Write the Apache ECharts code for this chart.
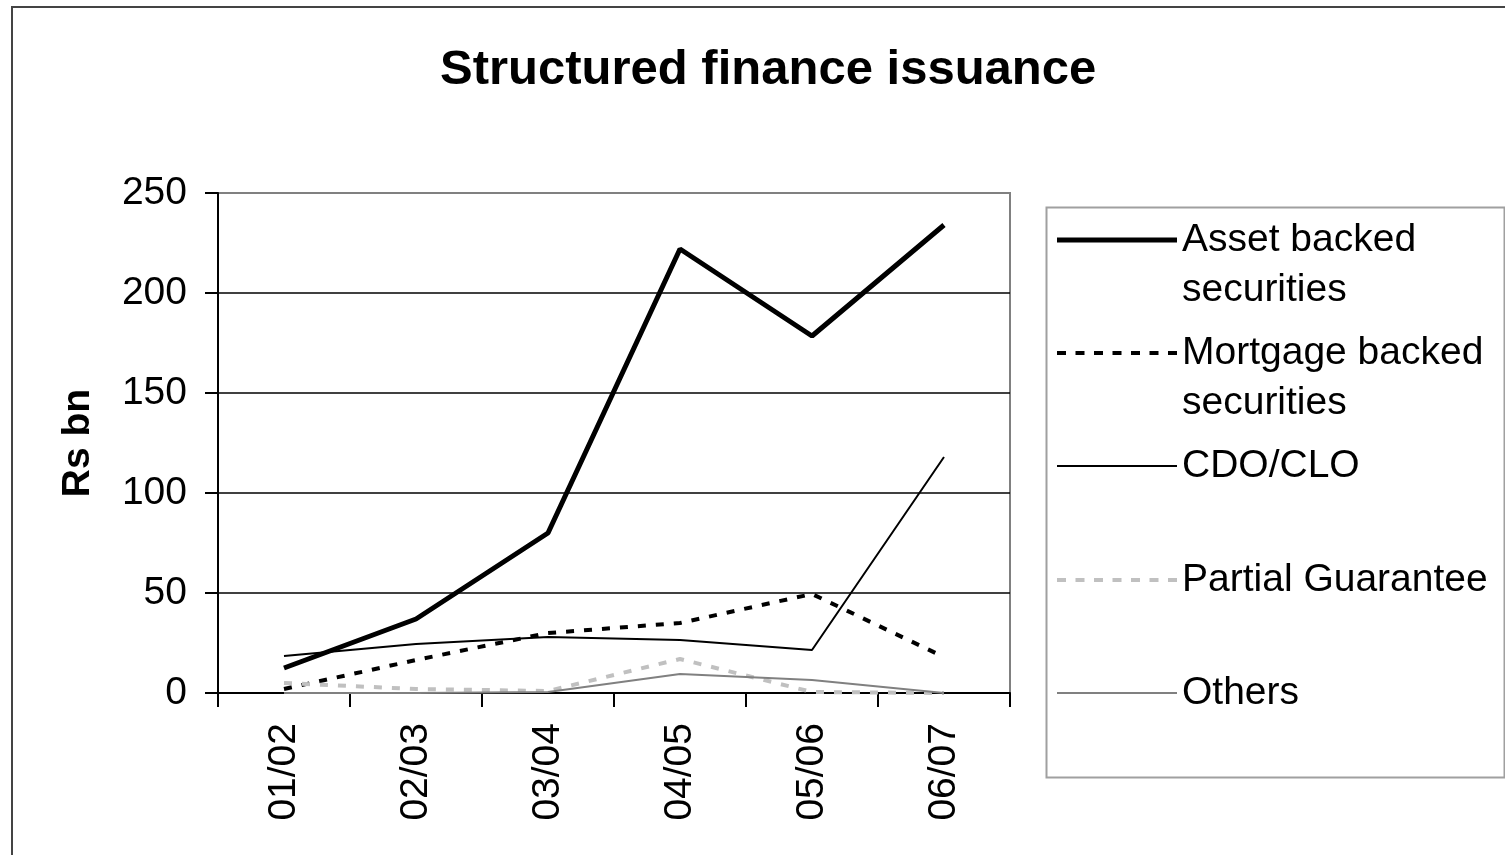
<!DOCTYPE html>
<html>
<head>
<meta charset="utf-8">
<script src="https://cdn.jsdelivr.net/npm/echarts@6/dist/echarts.min.js"></script>
<style>
  html, body { margin: 0; padding: 0; background: #fff; }
  #wrap { position: relative; width: 1505px; height: 855px; overflow: hidden; }
  #chart { position: absolute; left: 0; top: 0; width: 1505px; height: 855px; }
  #frame { position: absolute; left: 11px; top: 6px; width: 1600px; height: 900px;
           border-left: 2px solid #444; border-top: 2px solid #444; pointer-events: none; }
</style>
</head>
<body>
<div id="wrap">
  <div id="chart"></div>
  <div id="frame"></div>
</div>
<script>
// Financial years
const categories = ['01/02', '02/03', '03/04', '04/05', '05/06', '06/07'];

// Issuance by product, Rs bn
const assetBacked    = [12.5, 37, 80, 222, 178.5, 234];
const mortgageBacked = [2, 16.5, 30, 35, 49.5, 18];
const cdoClo         = [18.5, 24.5, 28, 26.5, 21.5, 118];
const partialGuar    = [5, 2, 1, 17, 0.5, 0];
const others         = [0, 0, 0.5, 9.5, 6.5, 0];

const seriesNames = ['Asset backed securities', 'Mortgage backed securities', 'CDO/CLO', 'Partial Guarantee', 'Others'];
// a leading blank line keeps the key line level with the first line of wrapped names
const legendLabels = ['\nAsset backed\nsecurities', '\nMortgage backed\nsecurities', 'CDO/CLO', 'Partial Guarantee', 'Others'];
const yTicks = { min: 0, max: 250, step: 50 };

const FONT = '"Liberation Sans", Arial, sans-serif';

// dashed key sample: seven dashes across a 120 x 4 box
const dashIcon = 'path://' + [0, 18.5, 37, 55.5, 74, 92.5, 111]
  .map(x => 'M' + x + ' 0h9v4h-9z').join(' ');

const lineStyles = [
  { color: '#000000', width: 5, type: 'solid' },
  { color: '#000000', width: 4, type: [8, 10] },
  { color: '#000000', width: 2, type: 'solid' },
  { color: '#c0c0c0', width: 4, type: [8, 10] },
  { color: '#808080', width: 2, type: 'solid' }
];
const keyIcons = ['rect', dashIcon, 'rect', dashIcon, 'rect'];
const keyHeights = [5, 4, 2, 4, 2];
const values = [assetBacked, mortgageBacked, cdoClo, partialGuar, others];

// one legend block per entry, stacked down the key box
const legendTops = [165, 278, 441, 555, 668];
const legends = seriesNames.map((name, i) => ({
  data: [name],
  orient: 'vertical',
  left: 1057,
  top: legendTops[i],
  padding: 0,
  itemWidth: 120,
  itemHeight: keyHeights[i],
  icon: keyIcons[i],
  itemStyle: { color: lineStyles[i].color, borderWidth: 0 },
  selectedMode: false,
  formatter: () => legendLabels[i],
  textStyle: { fontFamily: FONT, fontSize: 39, color: '#000', lineHeight: 50 }
}));

const chart = echarts.init(document.getElementById('chart'), null, { renderer: 'canvas' });
chart.setOption({
  animation: false,
  backgroundColor: '#ffffff',
  title: {
    text: 'Structured finance issuance',
    left: 440,
    top: 46,
    padding: 0,
    textStyle: { fontFamily: FONT, fontSize: 49, fontWeight: 'bold', color: '#000' }
  },
  legend: legends,
  graphic: [{
    type: 'rect',
    left: 1044, top: 205,
    shape: { width: 458, height: 570 },
    style: { fill: 'none', stroke: '#a0a0a0', lineWidth: 2 },
    z: -1
  }],
  grid: {
    left: 218, right: 495, top: 193, bottom: 162,
    show: true, borderColor: '#808080', borderWidth: 2, backgroundColor: '#fff'
  },
  xAxis: {
    type: 'category',
    data: categories,
    boundaryGap: true,
    axisLine: { lineStyle: { color: '#000', width: 2 } },
    axisTick: { show: true, length: 14, lineStyle: { color: '#000', width: 2 } },
    axisLabel: { rotate: 90, margin: 30, fontFamily: FONT, fontSize: 39, color: '#000' },
    splitLine: { show: false }
  },
  yAxis: {
    type: 'value',
    min: yTicks.min, max: yTicks.max, interval: yTicks.step,
    name: 'Rs bn',
    nameLocation: 'middle',
    nameGap: 120,
    nameTextStyle: { fontFamily: FONT, fontSize: 39, fontWeight: 'bold', color: '#000' },
    axisLine: { show: true, lineStyle: { color: '#000', width: 2 } },
    axisTick: { show: true, length: 13, lineStyle: { color: '#000', width: 2 } },
    axisLabel: { margin: 31, fontFamily: FONT, fontSize: 39, color: '#000' },
    splitLine: { show: true, lineStyle: { color: ['#000', '#000', '#000', '#000', '#000', '#808080'], width: 1.6 } }
  },
  series: seriesNames.map((name, i) => ({
    name: name,
    type: 'line',
    data: values[i],
    symbol: 'none',
    lineStyle: lineStyles[i],
    itemStyle: { color: lineStyles[i].color },
    emphasis: { disabled: true }
  }))
});
</script>
</body>
</html>
